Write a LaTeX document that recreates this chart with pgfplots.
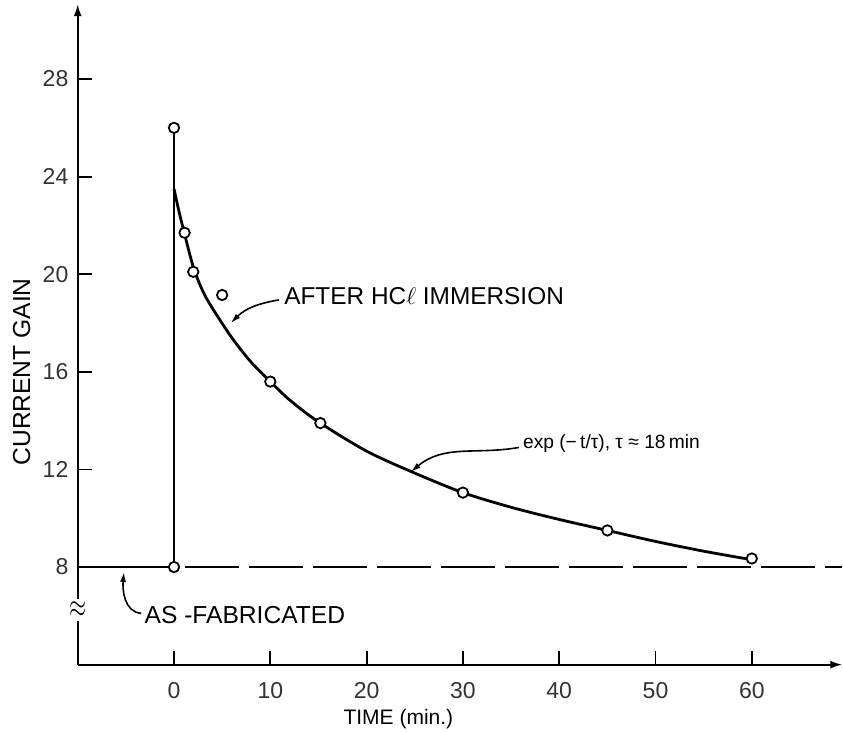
\documentclass[border=0pt]{standalone}
\usepackage{pgfplots}
\pgfplotsset{compat=1.18}
\usepackage{fontspec}
\setmainfont{Liberation Sans}
\usetikzlibrary{arrows.meta}
\begin{document}
\fontsize{10.5}{12}\selectfont
\begin{tikzpicture}
\begin{axis}[
  x=4.815pt, y=12.2pt,
  xmin=-10, xmax=69.4, ymin=4, ymax=31.07,
  axis x line=bottom, axis y line=left,
  axis line style={line width=1pt, black},
  x axis line style={-{Latex[length=6pt,width=4pt]}},
  y axis line style={-{Latex[length=6pt,width=4pt]}},
  xtick={0,10,20,30,40,50,60}, ytick={8,12,16,20,24,28},
  tick align=inside, major tick length=7pt,
  tick style={line width=0.9pt, black},
  /pgf/number format/assume math mode=true,
  ticklabel style={font=\fontsize{11.5}{13}\selectfont, text=black!80},
  xticklabel style={yshift=-5pt},
  yticklabel style={xshift=-1pt},
  clip=false,
]
% as-fabricated level and jump
\addplot[line width=1.4pt, black] coordinates {(-10,8) (0,8) (0,26)};
% decay curve
\addplot[line width=1.4pt, black, smooth] coordinates {
(0,23.5) (0.5,22.6) (1,21.8) (2,20.3) (3,19.3) (4,18.6) (6,17.4) (8,16.4)
(10,15.6) (12,14.85) (15,13.95) (20,12.75) (25,11.85) (30,11.05) (35,10.45)
(40,9.95) (45,9.5) (50,9.05) (55,8.65) (60,8.3)};
% dashed reference level
\addplot[line width=1pt, black, dash pattern=on 27pt off 5pt] coordinates {(1.1,8) (69.4,8)};
% measured points
\addplot[only marks, mark=*, mark size=2.6pt, mark options={draw=black, fill=white, line width=0.9pt}] coordinates {
(0,26) (0,8) (1.1,21.7) (2,20.1) (5,19.15) (10,15.6) (15.2,13.9) (30,11.05) (45,9.5) (60,8.35)};

% annotations
\node[anchor=west, inner sep=1pt, font=\fontsize{12.2}{14}\selectfont] at (axis cs:11.2,19.1) {AFTER HC$\ell$ IMMERSION};
\draw[line width=0.8pt, -{Latex[length=5pt,width=3pt]}] (axis cs:10.9,18.95) to[out=190,in=45] (axis cs:5.9,18.0);
\node[anchor=west, inner sep=1pt, font=\fontsize{9.6}{11}\selectfont] at (axis cs:36.0,13.08) {exp (−\,t/τ), τ ≈ 18\,min};
\draw[line width=0.8pt, -{Latex[length=5pt,width=3pt]}] (axis cs:35.8,12.9) to[out=190,in=40] (axis cs:24.6,11.9);
\node[anchor=west, inner sep=1pt, font=\fontsize{12.3}{14}\selectfont] at (axis cs:-3.3,6.03) {AS -FABRICATED};
\draw[line width=0.8pt, -{Latex[length=5pt,width=3pt]}] (axis cs:-3.4,6.1) to[out=175,in=-95] (axis cs:-5.2,7.8);
% axis break
\fill[white] ([xshift=-4pt]axis cs:-10,5.8) rectangle ([xshift=4pt]axis cs:-10,6.7);
\node[inner sep=0pt, yscale=1.5] at (axis cs:-10,6.25) {$\approx$};
% axis labels
\node[rotate=90, font=\fontsize{12.3}{14}\selectfont] at ([xshift=-28pt]axis cs:-10,16) {CURRENT GAIN};
\node[font=\fontsize{10.5}{12}\selectfont] at ([yshift=-27pt]axis cs:23.3,4) {TIME (min.)};
% frame coordinates
\coordinate (bl) at (axis cs:-18.07,1.20);
\coordinate (tr) at (axis cs:69.47,31.24);
\end{axis}
\pgfresetboundingbox
\useasboundingbox (bl) rectangle (tr);
\end{tikzpicture}
\end{document}
